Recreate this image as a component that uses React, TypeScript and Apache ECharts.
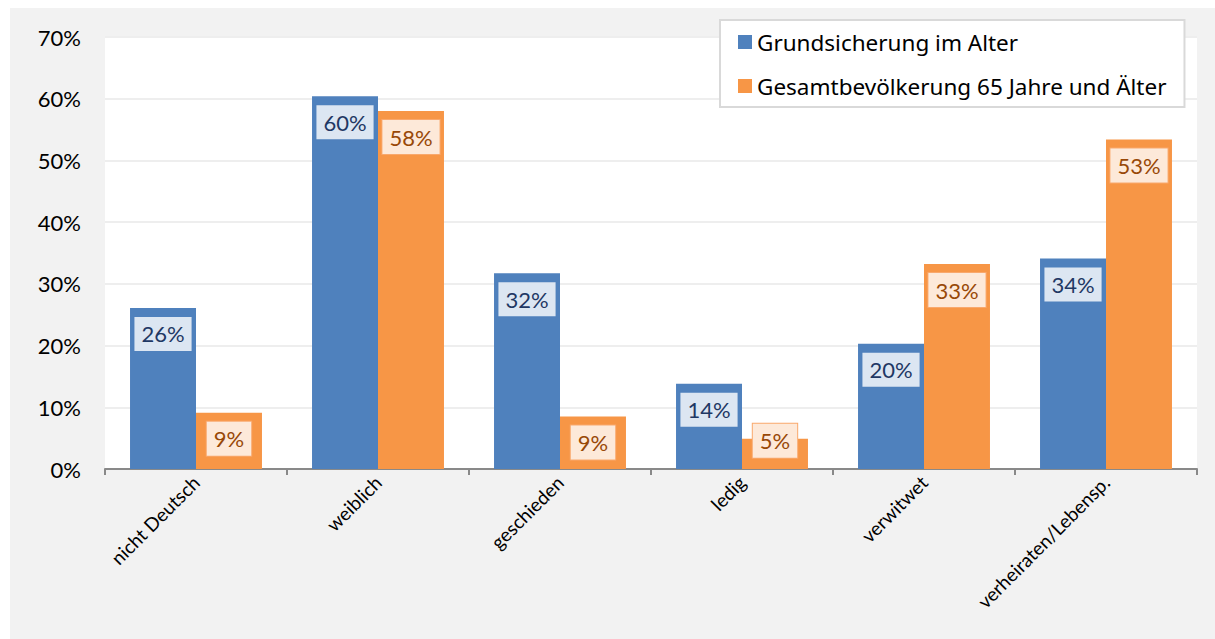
import React, { useEffect, useRef } from "react";
import * as echarts from "echarts";

const categories = ["nicht Deutsch", "weiblich", "geschieden", "ledig", "verwitwet", "verheiraten/Lebensp."];
const seriesNames = ["Grundsicherung im Alter", "Gesamtbevölkerung 65 Jahre und Älter"];
const grundsicherung = [26.1, 60.4, 31.7, 13.8, 20.3, 34.1];
const gesamt = [9.1, 58.0, 8.5, 4.9, 33.2, 53.4];
const yTicks = [0, 10, 20, 30, 40, 50, 60, 70];

const FONT = "Lato";

export default function App() {
  const ref = useRef<HTMLDivElement>(null);
  useEffect(() => {
    if (!ref.current) return;
    const chart = echarts.init(ref.current, undefined, { renderer: "svg" });
    const labelBase = (bg: string, color: string, border: string) => ({
      show: true,
      position: "insideTop",
      distance: 9,
      fontFamily: FONT,
      fontSize: 22,
      color,
      backgroundColor: bg,
      borderColor: border,
      borderWidth: 1,
      padding: [6, 7, 6, 7],
      formatter: (p: any) => Math.round(p.value) + "%",
    });
    chart.setOption({
      animation: false,
      backgroundColor: "#f2f2f2",
      textStyle: { fontFamily: FONT },
      grid: {
        left: 95,
        top: 29,
        right: 18,
        bottom: 170,
        show: true,
        backgroundColor: "#ffffff",
        borderWidth: 0,
      },
      legend: {
        orient: "vertical",
        left: 710,
        top: 12,
        padding: [9, 18, 8, 18],
        itemGap: 18,
        itemWidth: 14,
        itemHeight: 14,
        icon: "rect",
        backgroundColor: "#ffffff",
        borderColor: "#d9d9d9",
        borderWidth: 2,
        textStyle: { fontFamily: "Noto Sans", fontSize: 22.5, color: "#000", lineHeight: 26, padding: [0, 0, 0, 0] },
        data: seriesNames,
      },
      xAxis: {
        type: "category",
        data: categories,
        axisLine: { lineStyle: { color: "#898989", width: 2 } },
        axisTick: { show: true, length: 6, lineStyle: { color: "#898989", width: 2 } },
        axisLabel: { rotate: 45, fontFamily: FONT, fontSize: 19, color: "#000", margin: 10, interval: 0 },
      },
      yAxis: {
        type: "value",
        min: yTicks[0],
        max: yTicks[yTicks.length - 1],
        interval: 10,
        axisLine: { show: false },
        axisTick: { show: false },
        splitLine: { lineStyle: { color: "#eeeeee", width: 2 } },
        axisLabel: { formatter: "{value}%", fontFamily: FONT, fontSize: 22, color: "#000", margin: 24 },
      },
      series: [
        {
          name: seriesNames[0],
          type: "bar",
          data: grundsicherung,
          barGap: "0%",
          barCategoryGap: "27.5%",
          itemStyle: { color: "#4f81bd" },
          label: labelBase("#dce6f2", "#1f3864", "#4f81bd"),
        },
        {
          name: seriesNames[1],
          type: "bar",
          data: gesamt.map((v, i) =>
            i === 3 ? { value: v, label: { offset: [0, -24] } } : v
          ),
          barGap: "0%",
          barCategoryGap: "27.5%",
          itemStyle: { color: "#f79646" },
          label: labelBase("#fde9d9", "#984807", "#f9a86c"),
        },
      ],
    });
    return () => chart.dispose();
  }, []);
  return (
    <div
      ref={ref}
      style={{ position: "fixed", left: 10, top: 8, width: 1205, height: 631 }}
    />
  );
}
